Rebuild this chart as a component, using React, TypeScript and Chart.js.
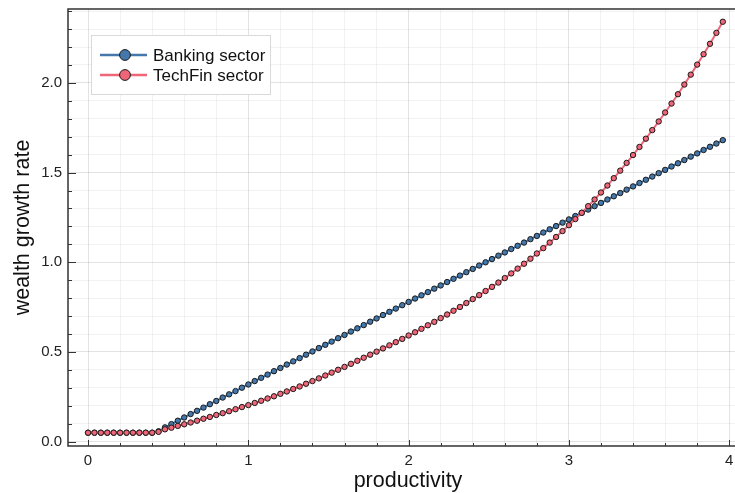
import React, { useEffect, useRef } from "react";
import { Chart, registerables } from "chart.js";

Chart.register(...registerables);

const productivity = [
  0.0, 0.04, 0.08, 0.12, 0.16, 0.2, 0.24, 0.28, 0.32, 0.36, 0.4, 0.44, 0.48, 0.52, 0.56, 0.6, 0.64, 0.68, 0.72, 0.76,
  0.8, 0.84, 0.88, 0.92, 0.96, 1.0, 1.04, 1.08, 1.12, 1.16, 1.2, 1.24, 1.28, 1.32, 1.36, 1.4, 1.44, 1.48, 1.52, 1.56,
  1.6, 1.64, 1.68, 1.72, 1.76, 1.8, 1.84, 1.88, 1.92, 1.96, 2.0, 2.04, 2.08, 2.12, 2.16, 2.2, 2.24, 2.28, 2.32, 2.36,
  2.4, 2.44, 2.48, 2.52, 2.56, 2.6, 2.64, 2.68, 2.72, 2.76, 2.8, 2.84, 2.88, 2.92, 2.96, 3.0, 3.04, 3.08, 3.12, 3.16,
  3.2, 3.24, 3.28, 3.32, 3.36, 3.4, 3.44, 3.48, 3.52, 3.56, 3.6, 3.64, 3.68, 3.72, 3.76, 3.8, 3.84, 3.88, 3.92, 3.96,
];

const banking = [
  0.05, 0.05, 0.05, 0.05, 0.05, 0.05, 0.05, 0.05, 0.05, 0.05, 0.05, 0.058,
  0.08, 0.098, 0.117, 0.135, 0.154, 0.172, 0.19, 0.209, 0.227, 0.246, 0.264, 0.282, 0.301, 0.319,
  0.338, 0.356, 0.374, 0.393, 0.411, 0.43, 0.448, 0.466, 0.485, 0.503, 0.522, 0.54, 0.558, 0.577, 0.595, 0.614,
  0.632, 0.65, 0.669, 0.687, 0.706, 0.724, 0.742, 0.761, 0.779,
  0.798, 0.816, 0.834, 0.853, 0.871, 0.89, 0.908, 0.926, 0.945, 0.963, 0.982, 1.0, 1.018, 1.037, 1.055, 1.074,
  1.092, 1.11, 1.129, 1.147, 1.166, 1.184, 1.202, 1.221, 1.239,
  1.258, 1.276, 1.294, 1.313, 1.331, 1.35, 1.368, 1.386, 1.405, 1.423, 1.442, 1.46, 1.478, 1.497, 1.515, 1.534,
  1.552, 1.57, 1.589, 1.607, 1.626, 1.644, 1.662, 1.681,
];

const techfin = [
  0.05, 0.05, 0.05, 0.05, 0.05, 0.05, 0.05, 0.05, 0.05, 0.05, 0.05, 0.055,
  0.069, 0.078, 0.088, 0.097, 0.107, 0.117, 0.128, 0.138, 0.149, 0.159, 0.17, 0.181, 0.193, 0.204,
  0.216, 0.228, 0.241, 0.253, 0.267, 0.28, 0.294, 0.308, 0.323, 0.338, 0.353, 0.369, 0.385, 0.401, 0.417, 0.434,
  0.451, 0.468, 0.485, 0.502, 0.52, 0.537, 0.555, 0.573, 0.592,
  0.61, 0.629, 0.649, 0.668, 0.689, 0.709, 0.73, 0.751, 0.773, 0.795, 0.817, 0.84, 0.863, 0.887, 0.912, 0.938,
  0.965, 0.992, 1.02, 1.049, 1.079, 1.11, 1.141, 1.174, 1.207,
  1.241, 1.276, 1.313, 1.35, 1.389, 1.428, 1.469, 1.511, 1.554, 1.598, 1.643, 1.689, 1.737, 1.785, 1.835, 1.885,
  1.937, 1.991, 2.046, 2.102, 2.16, 2.218, 2.279, 2.341,
];

const seriesNames = ["Banking sector", "TechFin sector"];
const seriesColors = ["#4477AA", "#EE6677"];
const xAxisTitle = "productivity";
const yAxisTitle = "wealth growth rate";

const xMajorTicks = [0, 1, 2, 3, 4];
const xTickLabels = ["0", "1", "2", "3", "4"];
const yMajorTicks = [0, 0.5, 1.0, 1.5, 2.0];
const yTickLabels = ["0.0", "0.5", "1.0", "1.5", "2.0"];
const xMinorStep = 0.2;
const yMinorStep = 0.1;

const FONT = "'Liberation Sans', Arial, Helvetica, sans-serif";

function gridValues(from: number, to: number, step: number): number[] {
  const out: number[] = [];
  const n = Math.round((to - from) / step);
  for (let i = 0; i <= n; i++) out.push(Math.round((from + i * step) * 1000) / 1000);
  return out;
}

const isMajor = (v: number, majors: number[]) => majors.some((m) => Math.abs(m - v) < 1e-6);

export default function App() {
  const ref = useRef<HTMLCanvasElement | null>(null);

  useEffect(() => {
    const canvas = ref.current;
    if (!canvas) return;

    const xGrid = gridValues(0, 4, xMinorStep);
    const yGrid = gridValues(0, 2.4, yMinorStep);

    const framePlugin = {
      id: "frameAndLegend",
      afterDraw(chart: any) {
        const { ctx, chartArea } = chart;
        const { left, top, right, bottom } = chartArea;
        const xs = chart.scales.x;
        const ys = chart.scales.y;
        ctx.save();
        ctx.strokeStyle = "#333333";
        ctx.lineWidth = 1.5;
        ctx.beginPath();
        ctx.moveTo(right + 2, top);
        ctx.lineTo(left, top);
        ctx.lineTo(left, bottom);
        ctx.lineTo(right + 2, bottom);
        ctx.stroke();
        ctx.lineWidth = 1;
        ctx.beginPath();
        xGrid.forEach((v) => {
          const px = Math.round(xs.getPixelForValue(v)) + 0.5;
          const len = isMajor(v, xMajorTicks) ? 6 : 3;
          ctx.moveTo(px, bottom);
          ctx.lineTo(px, bottom - len);
        });
        yGrid.forEach((v) => {
          const py = Math.round(ys.getPixelForValue(v)) + 0.5;
          if (py < top + 1) return;
          const len = isMajor(v, yMajorTicks) ? 8 : 4;
          ctx.moveTo(left, py);
          ctx.lineTo(left + len, py);
        });
        ctx.stroke();

        // x axis title (centred on the full plot frame, which runs past the canvas edge)
        ctx.fillStyle = "#111111";
        ctx.font = `21.5px ${FONT}`;
        ctx.textAlign = "center";
        ctx.textBaseline = "middle";
        ctx.fillText(xAxisTitle, 408, 481.5);

        // legend
        const lx = 91.5, ly = 35.5, lw = 179, lh = 59;
        ctx.fillStyle = "#ffffff";
        ctx.fillRect(lx, ly, lw, lh);
        ctx.strokeStyle = "#d9d9d9";
        ctx.lineWidth = 1;
        ctx.strokeRect(lx, ly, lw, lh);
        seriesNames.forEach((name, i) => {
          const cy = 55 + i * 20;
          ctx.strokeStyle = seriesColors[i];
          ctx.lineWidth = 2.5;
          ctx.beginPath();
          ctx.moveTo(100, cy);
          ctx.lineTo(147, cy);
          ctx.stroke();
          ctx.beginPath();
          ctx.arc(125, cy, 5.4, 0, Math.PI * 2);
          ctx.fillStyle = seriesColors[i];
          ctx.fill();
          ctx.lineWidth = 1;
          ctx.strokeStyle = "#1a1a1a";
          ctx.stroke();
          ctx.fillStyle = "#111111";
          ctx.font = `17px ${FONT}`;
          ctx.textAlign = "left";
          ctx.textBaseline = "middle";
          ctx.fillText(name, 153, cy + 1);
        });
        ctx.restore();
      },
    };

    const chart = new Chart(canvas, {
      type: "line",
      data: {
        datasets: [
          {
            label: seriesNames[0],
            data: productivity.map((x, i) => ({ x, y: banking[i] })),
            borderColor: seriesColors[0],
            backgroundColor: seriesColors[0],
            borderWidth: 2,
            pointRadius: 2.7,
            pointBorderWidth: 1,
            pointBorderColor: "#1a1a1a",
            pointBackgroundColor: seriesColors[0],
            tension: 0,
            order: 1,
          },
          {
            label: seriesNames[1],
            data: productivity.map((x, i) => ({ x, y: techfin[i] })),
            borderColor: seriesColors[1],
            backgroundColor: seriesColors[1],
            borderWidth: 2,
            pointRadius: 2.7,
            pointBorderWidth: 1,
            pointBorderColor: "#1a1a1a",
            pointBackgroundColor: seriesColors[1],
            tension: 0,
            order: 0,
          },
        ],
      },
      options: {
        responsive: false,
        animation: false,
        devicePixelRatio: 1,
        layout: { autoPadding: false, padding: { top: 9, right: 0, left: 0, bottom: 0 } },
        plugins: { legend: { display: false }, tooltip: { enabled: false } },
        scales: {
          x: {
            type: "linear",
            min: -0.125,
            max: 4.036,
            afterBuildTicks: (axis: any) => {
              axis.ticks = xGrid.map((v) => ({ value: v }));
            },
            afterFit: (axis: any) => {
              axis.height = 47;
              axis.paddingLeft = 0;
              axis.paddingRight = 0;
            },
            grid: {
              drawTicks: false,
              color: (c: any) => (isMajor(c.tick?.value, xMajorTicks) ? "rgba(0,0,0,0.11)" : "rgba(0,0,0,0.05)"),
              lineWidth: 1,
            },
            border: { display: false },
            ticks: {
              autoSkip: false,
              maxRotation: 0,
              padding: 6,
              color: "#222222",
              font: { family: FONT, size: 15 },
              callback: (v: any) => {
                const idx = xMajorTicks.findIndex((m) => Math.abs(m - Number(v)) < 1e-6);
                return idx >= 0 ? xTickLabels[idx] : "";
              },
            },
            title: { display: false, text: xAxisTitle },
          },
          y: {
            type: "linear",
            min: -0.024,
            max: 2.412,
            afterBuildTicks: (axis: any) => {
              axis.ticks = yGrid.map((v) => ({ value: v }));
            },
            afterFit: (axis: any) => {
              axis.width = 68;
              axis.paddingTop = 0;
              axis.paddingBottom = 0;
            },
            grid: {
              drawTicks: false,
              color: (c: any) => (isMajor(c.tick?.value, yMajorTicks) ? "rgba(0,0,0,0.11)" : "rgba(0,0,0,0.05)"),
              lineWidth: 1,
            },
            border: { display: false },
            ticks: {
              autoSkip: false,
              padding: 6,
              color: "#222222",
              font: { family: FONT, size: 15 },
              callback: (v: any) => {
                const idx = yMajorTicks.findIndex((m) => Math.abs(m - Number(v)) < 1e-6);
                return idx >= 0 ? yTickLabels[idx] : "";
              },
            },
            title: {
              display: true,
              text: yAxisTitle,
              color: "#111111",
              font: { family: FONT, size: 21.5 },
              padding: { top: 10, bottom: 0 },
            },
          },
        },
      },
      plugins: [framePlugin],
    } as any);

    return () => chart.destroy();
  }, []);

  return (
    <div style={{ position: "absolute", left: 0, top: 0, width: 735, height: 493, overflow: "hidden", background: "#fff" }}>
      <canvas ref={ref} width={735} height={493} style={{ display: "block", width: 735, height: 493 }} />
    </div>
  );
}
